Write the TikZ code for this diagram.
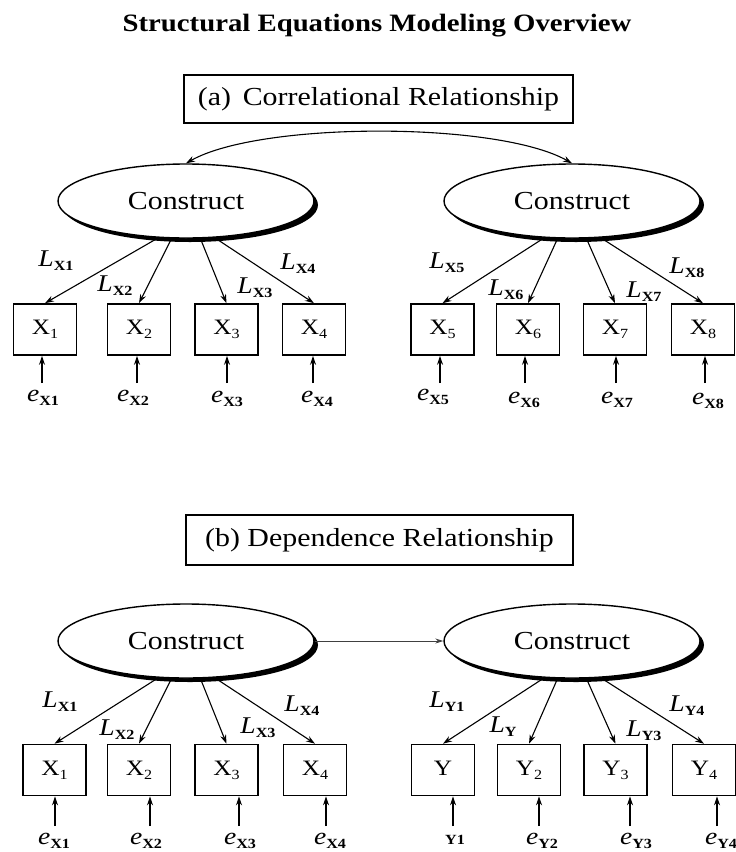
\documentclass[tikz,border=0pt]{standalone}
\usepackage{fontspec}
\setmainfont{Liberation Serif}[FakeStretch=1.15]
\usetikzlibrary{shapes.geometric,arrows.meta}
\newcommand{\fs}[1]{\fontsize{#1}{#1}\selectfont}
\newcommand{\lbl}[2]{{\fs{24}\itshape #1}\raisebox{-4pt}{\fs{14}\bfseries #2}}
\newcommand{\obs}[2]{{\fs{22}#1}\raisebox{-4pt}{\fs{14}#2}}
\begin{document}
\begin{tikzpicture}[x=1pt,y=-1pt,
  construct/.style={ellipse,draw,line width=1.4pt,fill=white,minimum width=256pt,minimum height=74pt,inner sep=0pt,font=\fs{26}},
  shadowell/.style={ellipse,fill=black,minimum width=256pt,minimum height=74pt,inner sep=0pt},
  obsbox/.style={draw,line width=1.6pt,minimum width=63pt,minimum height=51pt,inner sep=0pt},
  headbox/.style={draw,line width=1.4pt,minimum height=48pt,inner sep=0pt,font=\fs{26}},
  lab/.style={inner sep=0pt},
  tip/.tip={Stealth[length=9pt,width=6pt]},
  load/.style={line width=1.1pt,-tip},
  err/.style={line width=1.1pt,-tip},
]
\useasboundingbox (0,0) rectangle (736,852);
\fill[white] (0,0) rectangle (736,852);

\node[lab,font=\fs{25}\bfseries] (title) at (377,26) {Structural Equations Modeling Overview};

% ---------- part (a)
\node[headbox,minimum width=389pt] (ha) at (378.5,99) {(a)\hspace{0.45em}Correlational Relationship};

\node[shadowell] (sa1) at (190,205) {};
\node[construct] (Ca1) at (186,201) {Construct};
\node[shadowell] (sa2) at (576,205) {};
\node[construct] (Ca2) at (572,201) {Construct};

\draw[line width=1.1pt,tip-tip] (Ca1.north) .. controls +(74,-42) and +(-74,-42) .. (Ca2.north);

\foreach \n/\x in {1/45,2/139,3/226.5,4/314,5/442.5,6/528,7/615,8/703}
  \node[obsbox] (Xa\n) at (\x,329.5) {\obs{X}{\n}};

\foreach \n/\a in {1/-127,2/-111,3/-69,4/-52}
  \draw[load] (Ca1.\a) -- (Xa\n.north);
\foreach \n/\a in {5/-127,6/-111,7/-69,8/-52}
  \draw[load] (Ca2.\a) -- (Xa\n.north);

\node[lab] (La1) at (56,261) {\lbl{L}{X1}};
\node[lab] (La2) at (115,286) {\lbl{L}{X2}};
\node[lab] (La3) at (255,288) {\lbl{L}{X3}};
\node[lab] (La4) at (298,264) {\lbl{L}{X4}};
\node[lab] (La5) at (447,263) {\lbl{L}{X5}};
\node[lab] (La6) at (506,290) {\lbl{L}{X6}};
\node[lab] (La7) at (644,292) {\lbl{L}{X7}};
\node[lab] (La8) at (687,268) {\lbl{L}{X8}};

\foreach \n/\x/\lx/\ly in {1/42/43/398,2/137/133/398,3/227/227/399,4/313/317/399,5/440/433/397,6/525/524/400,7/616/617/400,8/705/708/401}{
  \node[lab] (ea\n) at (\lx,\ly) {\lbl{e}{X\n}};
  \coordinate (sa\n) at (\x,383);
  \draw[err] (sa\n) -- (sa\n |- Xa\n.south);
}

% ---------- part (b)
\node[headbox,minimum width=387pt,minimum height=50pt] (hb) at (379.5,540) {(b) Dependence Relationship};

\node[shadowell] (sb1) at (190,645) {};
\node[construct] (Cb1) at (186,641) {Construct};
\node[shadowell] (sb2) at (576,645) {};
\node[construct] (Cb2) at (572,641) {Construct};

\draw[line width=0.8pt,black!75,-{Stealth[length=8pt,width=5pt]}] (Cb1.east) -- (Cb2.west);

\foreach \n/\x in {1/54.5,2/139,3/226.5,4/315}
  \node[obsbox] (Xb\n) at (\x,770) {\obs{X}{\n}};
\node[obsbox] (Yb1) at (443,770) {\obs{Y}{}};
\foreach \n/\x in {2/529,3/615.5,4/704}
  \node[obsbox] (Yb\n) at (\x,770) {\obs{Y}{\n}};

\foreach \n/\a in {1/-127,2/-111,3/-69,4/-52}{
  \draw[load] (Cb1.\a) -- (Xb\n.north);
  \draw[load] (Cb2.\a) -- (Yb\n.north);
}

\node[lab] (Lb1) at (60,702) {\lbl{L}{X1}};
\node[lab] (Lb2) at (117,730) {\lbl{L}{X2}};
\node[lab] (Lb3) at (258,728) {\lbl{L}{X3}};
\node[lab] (Lb4) at (302,706) {\lbl{L}{X4}};
\node[lab] (Lb5) at (447,702) {\lbl{L}{Y1}};
\node[lab] (Lb6) at (503,727) {\lbl{L}{Y}};
\node[lab] (Lb7) at (644,731) {\lbl{L}{Y3}};
\node[lab] (Lb8) at (687,706) {\lbl{L}{Y4}};

\foreach \n/\x/\lx in {1/55/54,2/150/146,3/239/240,4/326/330}{
  \node[lab] (eb\n) at (\lx,841) {\lbl{e}{X\n}};
  \coordinate (sb\n) at (\x,826);
  \draw[err] (sb\n) -- (sb\n |- Xb\n.south);
}
\node[lab,font=\fs{14}\bfseries] (ey1) at (455,840) {Y1};
\coordinate (ty1) at (453,826);
\draw[err] (ty1) -- (ty1 |- Yb1.south);
\foreach \n/\x/\lx in {2/539/542,3/630/636,4/717/721}{
  \node[lab] (ey\n) at (\lx,841) {\lbl{e}{Y\n}};
  \coordinate (ty\n) at (\x,826);
  \draw[err] (ty\n) -- (ty\n |- Yb\n.south);
}
\end{tikzpicture}
\end{document}
